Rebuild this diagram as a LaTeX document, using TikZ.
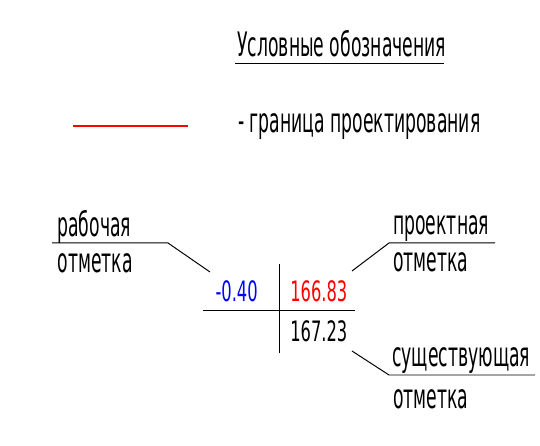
\documentclass[tikz,border=0pt]{standalone}
\usepackage{fontspec}
\setmainfont[FakeStretch=0.51]{DejaVu Sans}
\newfontfamily\numfont[FakeStretch=0.58]{DejaVu Sans}

\begin{document}
\begin{tikzpicture}[
  lbl/.style={anchor=base west, inner sep=0pt, font=\fontsize{24}{24}\selectfont},
  num/.style={anchor=base west, inner sep=0pt, font=\numfont\fontsize{20}{20}\selectfont},
  leader/.style={line width=0.7pt}
]
\useasboundingbox (0,0) rectangle (13.5,11.15);
\node[lbl] (title) at (5.93, 9.725) {Условные обозначения};
\draw[line width=1.2pt] (5.88, 9.56) -- (11.1, 9.56);
\draw[red, line width=0.8pt] (1.83, 8.0) -- (4.7, 8.0);
\node[lbl] (border) at (5.95, 7.825) {- граница проектирования};
% elevation mark
\draw[leader] (6.975, 4.55) -- (6.975, 2.325);
\draw[leader] (5.075, 3.4) -- (8.875, 3.4);
\node[num, anchor=base east, blue] (work) at (6.45, 3.6) {-0.40};
\node[num, red] (design) at (7.25, 3.6) {166.83};
\node[num] (exist) at (7.25, 2.6) {167.23};
% callouts
\coordinate (workend) at (5.25, 4.35);
\coordinate (designend) at (8.8, 4.375);
\coordinate (existend) at (8.8, 2.375);
\node[lbl] (workA) at (1.43, 5.225) {рабочая};
\node[lbl] (workB) at (1.43, 4.325) {отметка};
\draw[leader] (1.3, 5.075) -- (4.2, 5.075) -- (workend);
\node[lbl] (designA) at (9.825, 5.275) {проектная};
\node[lbl] (designB) at (9.825, 4.35) {отметка};
\draw[leader] (designend) -- (9.725, 5.075) -- (12.375, 5.075);
\node[lbl] (existA) at (9.8, 1.975) {существующая};
\node[lbl] (existB) at (9.825, 0.925) {отметка};
\draw[leader] (existend) -- (9.725, 1.775) -- (13.375, 1.775);
\end{tikzpicture}
\end{document}
